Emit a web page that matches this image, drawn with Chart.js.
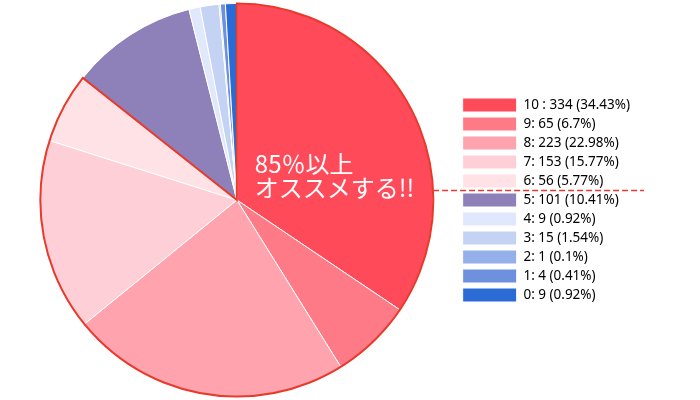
<!DOCTYPE html>
<html>
<head>
<meta charset="utf-8">
<script src="https://cdn.jsdelivr.net/npm/chart.js@4/dist/chart.umd.min.js"></script>
<style>
  html, body { margin: 0; padding: 0; background: #fff; }
  #wrap { width: 700px; height: 400px; position: relative; }
</style>
</head>
<body>
<div id="wrap"><canvas id="c"></canvas></div>
<script>
const categories = ['10', '9', '8', '7', '6', '5', '4', '3', '2', '1', '0'];
const values = [334, 65, 223, 153, 56, 101, 9, 15, 1, 4, 9];
const legendLabels = [
  '10 : 334 (34.43%)', '9: 65 (6.7%)', '8: 223 (22.98%)', '7: 153 (15.77%)',
  '6: 56 (5.77%)', '5: 101 (10.41%)', '4: 9 (0.92%)', '3: 15 (1.54%)',
  '2: 1 (0.1%)', '1: 4 (0.41%)', '0: 9 (0.92%)'
];
const colors = ['#ff4a5a', '#ff7a87', '#ffa4af', '#ffcfd7', '#ffe2e6',
                '#8e80b9', '#e0e8fb', '#c4d2f4', '#95afea', '#6d91de', '#2b6bd5'];
const highlightCount = 5;   // slices 10..6 (85% and above)
const centerLines = ['85％以上', 'オススメする!!'];

const outlinePlugin = {
  id: 'outline',
  afterDatasetsDraw(chart) {
    const meta = chart.getDatasetMeta(0);
    const first = meta.data[0], last = meta.data[highlightCount - 1];
    const ctx = chart.ctx;
    const cx = first.x, cy = first.y, r = first.outerRadius;
    ctx.save();
    ctx.beginPath();
    ctx.moveTo(cx, cy);
    ctx.arc(cx, cy, r, first.startAngle, last.endAngle);
    ctx.closePath();
    ctx.strokeStyle = '#e8392b';
    ctx.lineWidth = 2;
    ctx.lineJoin = 'miter';
    ctx.stroke();

    ctx.fillStyle = '#ffffff';
    ctx.font = '24px "Noto Sans CJK JP", "Noto Sans", sans-serif';
    ctx.textAlign = 'left';
    ctx.textBaseline = 'alphabetic';
    ctx.fillText(centerLines[0], cx + 18, cy - 27);
    ctx.fillText(centerLines[1], cx + 18, cy - 3);
    ctx.restore();
  },
  afterDraw(chart) {
    const meta = chart.getDatasetMeta(0);
    const first = meta.data[0];
    const cx = first.x, cy = first.y, r = first.outerRadius;
    const hb = chart.legend.legendHitBoxes;
    const ctx = chart.ctx;
    if (hb && hb.length > highlightCount) {
      const a = hb[highlightCount - 1], b = hb[highlightCount];
      const yy = Math.round((a.top + a.height + b.top) / 2) - 0.5;
      const dy = yy - cy;
      const xs = cx + Math.sqrt(Math.max(r * r - dy * dy, 0));
      ctx.save();
      ctx.beginPath();
      ctx.setLineDash([6, 3]);
      ctx.moveTo(xs, yy);
      ctx.lineTo(chart.legend.right + 4, yy);
      ctx.strokeStyle = '#e33b2e';
      ctx.lineWidth = 1.3;
      ctx.stroke();
      ctx.restore();
    }
  }
};

new Chart(document.getElementById('c'), {
  type: 'pie',
  data: {
    labels: categories,
    datasets: [{
      data: values,
      backgroundColor: colors,
      borderColor: '#ffffff',
      borderWidth: 1
    }]
  },
  options: {
    responsive: true,
    maintainAspectRatio: false,
    animation: false,
    layout: { padding: { left: 16, right: 60, top: 3, bottom: 3 } },
    plugins: {
      tooltip: { enabled: false },
      legend: {
        position: 'right',
        labels: {
          boxWidth: 54,
          boxHeight: 14,
          padding: 5,
          color: '#333333',
          font: { family: '"Noto Sans", sans-serif', size: 13.5 },
          generateLabels(chart) {
            return categories.map((c, i) => ({
              text: legendLabels[i],
              fillStyle: colors[i],
              strokeStyle: '#ffffff',
              lineWidth: 1,
              hidden: false,
              index: i
            }));
          }
        }
      }
    }
  },
  plugins: [outlinePlugin]
});
</script>
</body>
</html>
